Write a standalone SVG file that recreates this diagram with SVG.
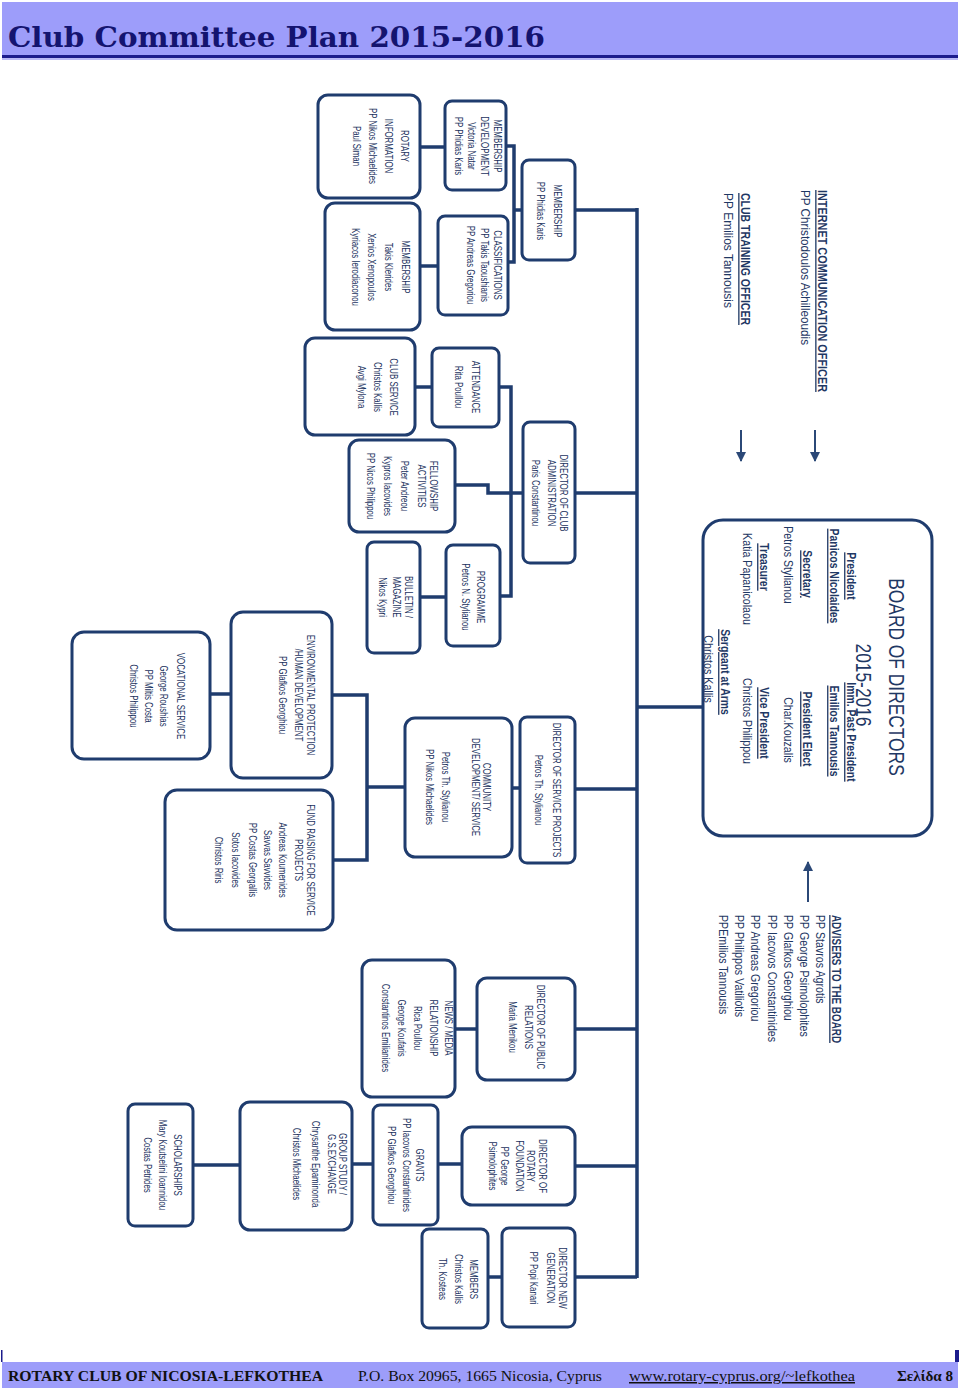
<svg xmlns="http://www.w3.org/2000/svg" width="960" height="1392" viewBox="0 0 960 1392">
<defs>
<style>
.box{fill:#fff;stroke:#1f3c6e;stroke-width:3}
.conn{fill:none;stroke:#1f3c6e;stroke-width:3.5}
.arr{fill:none;stroke:#2b4877;stroke-width:2}
.n{font-family:"Liberation Sans",Arial,sans-serif;font-size:10.5px;fill:#1b3260;text-anchor:middle}
.b{font-family:"Liberation Sans",Arial,sans-serif;font-size:13px;fill:#1f3864;text-anchor:middle}
.bt{font-family:"Liberation Sans",Arial,sans-serif;font-size:22px;fill:#1f3864;text-anchor:middle}
.bh{font-weight:bold;text-decoration:underline}
.o{font-family:"Liberation Sans",Arial,sans-serif;font-size:13px;fill:#1f3864}
.ft{font-family:"Liberation Serif","Times New Roman",serif;font-size:15px;fill:#111}
</style>
<marker id="ah" viewBox="0 0 10 10" refX="9" refY="5" markerWidth="10" markerHeight="10" markerUnits="userSpaceOnUse" orient="auto">
<path d="M0,0 L10,5 L0,10 z" fill="#2b4877"/>
</marker>
</defs>
<rect x="0" y="0" width="960" height="1392" fill="#fff"/>

<g id="header">
<rect x="2" y="2" width="956" height="53" fill="#9d9dfa"/>
<rect x="2" y="55" width="956" height="3" fill="#1c1c8c"/>
<rect x="2" y="58" width="956" height="2" fill="#b9b9f5"/>
<text x="8" y="47" font-family="'DejaVu Serif','Liberation Serif',serif" font-weight="bold" font-size="28" fill="#141470" textLength="537" lengthAdjust="spacingAndGlyphs">Club Committee Plan 2015-2016</text>
</g>

<g id="connectors">
<path class="conn" d="M637,208 V1278"/>
<path class="conn" d="M575,210 H637"/>
<path class="conn" d="M522,210 H514"/>
<path class="conn" d="M506,146 H514 V262 H508"/>
<path class="conn" d="M420,147 H445"/>
<path class="conn" d="M420,266 H438"/>
<path class="conn" d="M575,493 H637"/>
<path class="conn" d="M523,493 H511"/>
<path class="conn" d="M499,387 H511 V596 H500"/>
<path class="conn" d="M455,485 H488 V493 H511"/>
<path class="conn" d="M415,387 H432"/>
<path class="conn" d="M420,597 H446"/>
<path class="conn" d="M637,707 H703"/>
<path class="conn" d="M575,789 H637"/>
<path class="conn" d="M512,788 H520"/>
<path class="conn" d="M405,787 H367"/>
<path class="conn" d="M332,695 H367 V860 H333"/>
<path class="conn" d="M210,694 H231"/>
<path class="conn" d="M575,1029 H637"/>
<path class="conn" d="M455,1029 H477"/>
<path class="conn" d="M575,1166 H637"/>
<path class="conn" d="M438,1164 H462"/>
<path class="conn" d="M352,1164 H373"/>
<path class="conn" d="M193,1165 H240"/>
<path class="conn" d="M575,1277 H637"/>
<path class="conn" d="M488,1277 H502"/>
<line class="arr" x1="741" y1="430" x2="741" y2="461" marker-end="url(#ah)"/>
<line class="arr" x1="815" y1="430" x2="815" y2="461" marker-end="url(#ah)"/>
<line class="arr" x1="808" y1="902" x2="808" y2="862" marker-end="url(#ah)"/>
</g>

<g id="rotary_information">
<rect class="box" x="318" y="95" width="102" height="103" rx="10"/>
<text class="n" transform="translate(400.5,146) rotate(90) scale(0.75,1)"><tspan x="0" y="0">ROTARY</tspan><tspan x="0" y="16">INFORMATION</tspan><tspan x="0" y="32">PP Nikos Michaelides</tspan><tspan x="0" y="48">Paul Siman</tspan></text>
</g>
<g id="membership_development">
<rect class="box" x="445" y="101" width="61" height="89" rx="7"/>
<text class="n" transform="translate(493.5,146) rotate(90) scale(0.75,1)"><tspan x="0" y="0">MEMBERSHIP</tspan><tspan x="0" y="13">DEVELOPMENT</tspan><tspan x="0" y="26">Victoria Natar</tspan><tspan x="0" y="39">PP Phidias Karis</tspan></text>
</g>
<g id="membership_director">
<rect class="box" x="522" y="160" width="53" height="100" rx="7"/>
<text class="n" transform="translate(553.5,211) rotate(90) scale(0.75,1)"><tspan x="0" y="0">MEMBERSHIP</tspan><tspan x="0" y="17">PP Phidias Karis</tspan></text>
</g>
<g id="classifications">
<rect class="box" x="438" y="216" width="70" height="99" rx="7"/>
<text class="n" transform="translate(493.5,265) rotate(90) scale(0.75,1)"><tspan x="0" y="0">CLASSIFICATIONS</tspan><tspan x="0" y="13">PP Takis Taoushianis</tspan><tspan x="0" y="27">PP Andreas Gregoriou</tspan></text>
</g>
<g id="membership_committee">
<rect class="box" x="325" y="203" width="95" height="127" rx="10"/>
<text class="n" transform="translate(401.5,267) rotate(90) scale(0.75,1)"><tspan x="0" y="0">MEMBERSHIP</tspan><tspan x="0" y="17">Takis Klerides</tspan><tspan x="0" y="34">Xenios Xenopoulos</tspan><tspan x="0" y="50">Kyriacos Ierodiaconou</tspan></text>
</g>
<g id="club_service">
<rect class="box" x="305" y="338" width="110" height="97" rx="10"/>
<text class="n" transform="translate(389.5,387) rotate(90) scale(0.75,1)"><tspan x="0" y="0">CLUB SERVICE</tspan><tspan x="0" y="16">Christos Kallis</tspan><tspan x="0" y="32">Avgi Mylona</tspan></text>
</g>
<g id="attendance">
<rect class="box" x="432" y="348" width="67" height="79" rx="7"/>
<text class="n" transform="translate(471.5,387) rotate(90) scale(0.75,1)"><tspan x="0" y="0">ATTENDANCE</tspan><tspan x="0" y="17">Rita Poullou</tspan></text>
</g>
<g id="director_club_administration">
<rect class="box" x="523" y="422" width="52" height="141" rx="7"/>
<text class="n" transform="translate(559.5,493) rotate(90) scale(0.75,1)"><tspan x="0" y="0">DIRECTOR OF CLUB</tspan><tspan x="0" y="12">ADMINISTRATION</tspan><tspan x="0" y="28">Paris Constantinou</tspan></text>
</g>
<g id="fellowship">
<rect class="box" x="349" y="440" width="106" height="92" rx="10"/>
<text class="n" transform="translate(429.5,486) rotate(90) scale(0.75,1)"><tspan x="0" y="0">FELLOWSHIP</tspan><tspan x="0" y="12">ACTIVITIES</tspan><tspan x="0" y="29">Peter Andreou</tspan><tspan x="0" y="46">Kypros Iacovides</tspan><tspan x="0" y="63">PP Nicos Philippou</tspan></text>
</g>
<g id="programme">
<rect class="box" x="446" y="545" width="54" height="101" rx="7"/>
<text class="n" transform="translate(476.5,597) rotate(90) scale(0.75,1)"><tspan x="0" y="0">PROGRAMME</tspan><tspan x="0" y="15">Petros N. Stylianou</tspan></text>
</g>
<g id="bulletin">
<rect class="box" x="367" y="542" width="53" height="111" rx="7"/>
<text class="n" transform="translate(404.5,597) rotate(90) scale(0.75,1)"><tspan x="0" y="0">BULLETIN /</tspan><tspan x="0" y="12">MAGAZINE</tspan><tspan x="0" y="26">Nikos Kypri</tspan></text>
</g>
<g id="vocational_service">
<rect class="box" x="72" y="632" width="138" height="127" rx="12"/>
<text class="n" transform="translate(176.5,696) rotate(90) scale(0.75,1)"><tspan x="0" y="0">VOCATIONAL SERVICE</tspan><tspan x="0" y="17">George Roushias</tspan><tspan x="0" y="32">PP Miltis Costa</tspan><tspan x="0" y="47">Christos Philippou</tspan></text>
</g>
<g id="environmental">
<rect class="box" x="231" y="612" width="101" height="166" rx="12"/>
<text class="n" transform="translate(306.5,695) rotate(90) scale(0.75,1)"><tspan x="0" y="0">ENVIRONMENTAL PROTECTION</tspan><tspan x="0" y="12">/HUMAN DEVELOPMENT</tspan><tspan x="0" y="28">PP Glafkos Georghiou</tspan></text>
</g>
<g id="fund_raising">
<rect class="box" x="165" y="790" width="168" height="140" rx="12"/>
<text class="n" transform="translate(306.5,860) rotate(90) scale(0.75,1)"><tspan x="0" y="0">FUND RAISING FOR SERVICE</tspan><tspan x="0" y="12">PROJECTS</tspan><tspan x="0" y="28">Andreas Koumenides</tspan><tspan x="0" y="43">Savvas Savvides</tspan><tspan x="0" y="58">PP Costas Georgallis</tspan><tspan x="0" y="75">Sotos Iacovides</tspan><tspan x="0" y="92">Christos Riris</tspan></text>
</g>
<g id="community_development">
<rect class="box" x="405" y="718" width="107" height="139" rx="10"/>
<text class="n" transform="translate(482.5,787) rotate(90) scale(0.75,1)"><tspan x="0" y="0">COMMUNITY</tspan><tspan x="0" y="11">DEVELOPMENT/ SERVICE</tspan><tspan x="0" y="41">Petros Th. Stylianou</tspan><tspan x="0" y="57">PP Nikos Michaelides</tspan></text>
</g>
<g id="director_service_projects">
<rect class="box" x="520" y="717" width="55" height="146" rx="7"/>
<text class="n" transform="translate(552.5,790) rotate(90) scale(0.75,1)"><tspan x="0" y="0">DIRECTOR OF SERVICE PROJECTS</tspan><tspan x="0" y="18">Petros Th. Stylianou</tspan></text>
</g>
<g id="news_media">
<rect class="box" x="362" y="960" width="93" height="137" rx="10"/>
<text class="n" transform="translate(444.5,1028) rotate(90) scale(0.75,1)"><tspan x="0" y="0">NEWS / MEDIA</tspan><tspan x="0" y="15">RELATIONSHIP</tspan><tspan x="0" y="31">Rica Poullou</tspan><tspan x="0" y="47">George Koufaris</tspan><tspan x="0" y="63">Constantinos Emilianides</tspan></text>
</g>
<g id="director_public_relations">
<rect class="box" x="477" y="978" width="98" height="102" rx="10"/>
<text class="n" transform="translate(536.5,1027) rotate(90) scale(0.75,1)"><tspan x="0" y="0">DIRECTOR OF PUBLIC</tspan><tspan x="0" y="12">RELATIONS</tspan><tspan x="0" y="28">Maria Menikou</tspan></text>
</g>
<g id="scholarships">
<rect class="box" x="128" y="1104" width="65" height="122" rx="7"/>
<text class="n" transform="translate(173.5,1165) rotate(90) scale(0.75,1)"><tspan x="0" y="0">SCHOLARSHIPS</tspan><tspan x="0" y="15">Mary Koutselini Ioannidou</tspan><tspan x="0" y="30">Costas Petrides</tspan></text>
</g>
<g id="group_study">
<rect class="box" x="240" y="1102" width="112" height="128" rx="10"/>
<text class="n" transform="translate(338.5,1164) rotate(90) scale(0.75,1)"><tspan x="0" y="0">GROUP STUDY /</tspan><tspan x="0" y="11">G.S.EXCHANGE</tspan><tspan x="0" y="27">Chrysanthe Epaminonda</tspan><tspan x="0" y="46">Christos Michaelides</tspan></text>
</g>
<g id="grants">
<rect class="box" x="373" y="1105" width="65" height="120" rx="7"/>
<text class="n" transform="translate(415.5,1165) rotate(90) scale(0.75,1)"><tspan x="0" y="0">GRANTS</tspan><tspan x="0" y="13">PP Iacovos Constantinides</tspan><tspan x="0" y="28">PP Glafkos Georghiou</tspan></text>
</g>
<g id="director_rotary_foundation">
<rect class="box" x="462" y="1127" width="113" height="78" rx="10"/>
<text class="n" transform="translate(538.5,1166) rotate(90) scale(0.75,1)"><tspan x="0" y="0">DIRECTOR OF</tspan><tspan x="0" y="12">ROTARY</tspan><tspan x="0" y="23">FOUNDATION</tspan><tspan x="0" y="38">PP George</tspan><tspan x="0" y="50">Psimolophites</tspan></text>
</g>
<g id="members">
<rect class="box" x="422" y="1229" width="66" height="99" rx="7"/>
<text class="n" transform="translate(469.5,1279) rotate(90) scale(0.75,1)"><tspan x="0" y="0">MEMBERS</tspan><tspan x="0" y="15">Christos Kallis</tspan><tspan x="0" y="31">Th. Kosteas</tspan></text>
</g>
<g id="director_new_generation">
<rect class="box" x="502" y="1228" width="73" height="99" rx="7"/>
<text class="n" transform="translate(558.5,1278) rotate(90) scale(0.75,1)"><tspan x="0" y="0">DIRECTOR NEW</tspan><tspan x="0" y="12">GENERATION</tspan><tspan x="0" y="29">PP Popi Kanari</tspan></text>
</g>

<g id="board_of_directors">
<rect class="box" x="703" y="520" width="229" height="316" rx="20"/>
<text class="bt" transform="translate(889,677) rotate(90) scale(0.79,1)">BOARD OF DIRECTORS</text>
<text class="bt" transform="translate(856,685) rotate(90) scale(0.79,1)">2015-2016</text>
<text class="b bh" transform="translate(846.5,576) rotate(90) scale(0.8,1)">President</text>
<text class="b bh" transform="translate(829.5,576) rotate(90) scale(0.8,1)">Panicos Nicolaides</text>
<text class="b bh" transform="translate(802.5,574) rotate(90) scale(0.8,1)">Secretary</text>
<text class="b" transform="translate(783.5,565) rotate(90) scale(0.82,1)">Petros Stylianou</text>
<text class="b bh" transform="translate(759.5,567) rotate(90) scale(0.8,1)">Treasurer</text>
<text class="b" transform="translate(742.5,579) rotate(90) scale(0.82,1)">Katia Papanicolaou</text>
<text class="b bh" transform="translate(720.5,672) rotate(90) scale(0.8,1)">Sergeant at Arms</text>
<text class="b" transform="translate(703.5,669) rotate(90) scale(0.82,1)">Christos Kallis</text>
<text class="b bh" transform="translate(846.5,732) rotate(90) scale(0.8,1)">Imm. Past President</text>
<text class="b bh" transform="translate(829.5,731) rotate(90) scale(0.8,1)">Emilios Tannousis</text>
<text class="b bh" transform="translate(802.5,729) rotate(90) scale(0.8,1)">President Elect</text>
<text class="b" transform="translate(783.5,730) rotate(90) scale(0.82,1)">Char.Kouzalis</text>
<text class="b bh" transform="translate(759.5,723) rotate(90) scale(0.8,1)">Vice President</text>
<text class="b" transform="translate(742.5,721) rotate(90) scale(0.82,1)">Christos Philippou</text>
</g>

<g id="internet_communication_officer">
<text class="o bh" transform="translate(817.5,190) rotate(90)" textLength="202" lengthAdjust="spacingAndGlyphs">INTERNET COMMUNICATION OFFICER</text>
<text class="o" transform="translate(800.5,190) rotate(90)" textLength="155" lengthAdjust="spacingAndGlyphs">PP Christodoulos Achilleoudis</text>
</g>
<g id="club_training_officer">
<text class="o bh" transform="translate(740.5,193) rotate(90)" textLength="132" lengthAdjust="spacingAndGlyphs">CLUB TRAINING OFFICER</text>
<text class="o" transform="translate(723.5,193) rotate(90)" textLength="115" lengthAdjust="spacingAndGlyphs">PP Emilios Tannousis</text>
</g>
<g id="advisers">
<text class="o bh" transform="translate(831.5,915) rotate(90)" textLength="128" lengthAdjust="spacingAndGlyphs">ADVISERS TO THE BOARD</text>
<g transform="translate(815.5,915) rotate(90) scale(0.82,1)">
<text class="o" x="0" y="0">PP Stavros Agrotis</text>
<text class="o" x="0" y="16">PP George Psimolophites</text>
<text class="o" x="0" y="32">PP Glafkos Georghiou</text>
<text class="o" x="0" y="48">PP Iacovos Constantinides</text>
<text class="o" x="0" y="65">PP Andreas Gregoriou</text>
<text class="o" x="0" y="81">PP Philippos Vatiliotis</text>
<text class="o" x="0" y="97">PPEmilios Tannousis</text>
</g>
</g>

<g id="footer">
<rect x="1" y="1350" width="1.5" height="12" fill="#1c1c8c"/>
<rect x="955" y="1350" width="4" height="12" fill="#1c1c8c"/>
<rect x="2" y="1362" width="956" height="26" fill="#9d9dfa"/>
<text class="ft" x="8" y="1381" font-weight="bold" textLength="315" lengthAdjust="spacingAndGlyphs">ROTARY CLUB OF NICOSIA-LEFKOTHEA</text>
<text class="ft" x="358" y="1381" textLength="244" lengthAdjust="spacingAndGlyphs">P.O. Box 20965, 1665 Nicosia, Cyprus</text>
<text class="ft" x="629" y="1381" fill="#0000cc" text-decoration="underline" textLength="226" lengthAdjust="spacingAndGlyphs">www.rotary-cyprus.org/~lefkothea</text>
<text class="ft" x="897" y="1381" font-weight="bold" textLength="56" lengthAdjust="spacingAndGlyphs">Σελίδα 8</text>
</g>
</svg>
